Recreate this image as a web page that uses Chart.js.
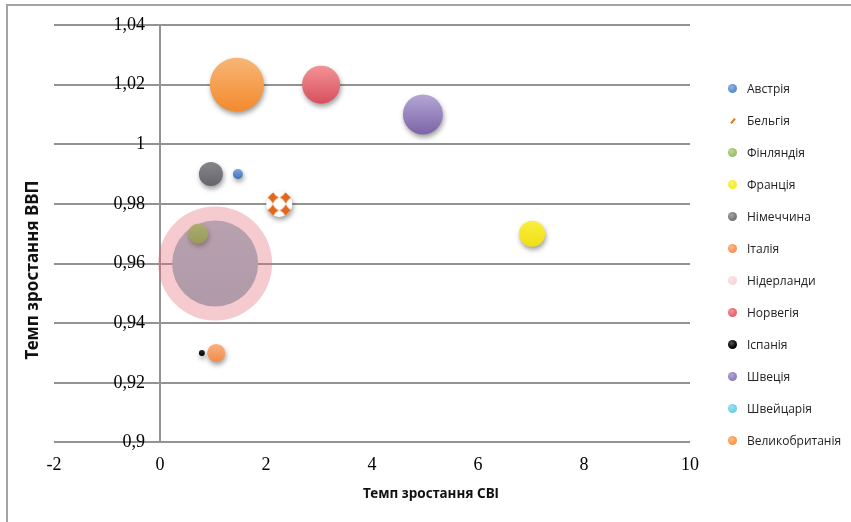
<!DOCTYPE html>
<html>
<head>
<meta charset="utf-8">
<script src="https://cdn.jsdelivr.net/npm/chart.js@4.4.1/dist/chart.umd.min.js"></script>
<style>
  html, body { margin: 0; padding: 0; background: #fff; }
  #wrap { position: relative; width: 851px; height: 522px; overflow: hidden; }
  #frame { position: absolute; left: 6px; top: 4px; width: 900px; height: 600px;
           border-top: 2px solid #a3a3a3; border-left: 2px solid #a3a3a3; }
  canvas { position: absolute; left: 0; top: 0; }
  #legend { position: absolute; left: 728px; top: 72px; font: 12px 'Open Sans', sans-serif; color: #222; }
  .item { height: 32px; display: flex; align-items: center; white-space: nowrap; }
  .mk { width: 9px; height: 9px; border-radius: 50%; margin-right: 10px; flex: none; }
  .slash { width: 9px; height: 9px; margin-right: 10px; flex: none; position: relative; }
  .slash::after { content: ''; position: absolute; left: 2px; top: 4px; width: 6px; height: 2px;
                  background: #e46c0a; transform: rotate(-50deg); }
</style>
</head>
<body>
<div id="wrap">
  <div id="frame"></div>
  <canvas id="c" width="851" height="522"></canvas>
  <div id="legend"></div>
</div>
<script>
// Countries and their values: x = growth of the FDI index, y = GDP growth rate, r = bubble size
const countries = ['Австрія', 'Бельгія', 'Фінляндія', 'Франція', 'Німеччина', 'Італія',
                   'Нідерланди', 'Норвегія', 'Іспанія', 'Швеція', 'Швейцарія', 'Великобританія'];
const fdiGrowth = [1.47, 2.25, 0.72, 7.02, 0.96, 1.06, 1.04, 3.04, 0.79, 4.96, 1.04, 1.45];
const gdpGrowth = [0.99, 0.98, 0.97, 0.97, 0.99, 0.93, 0.96, 1.02, 0.93, 1.01, 0.96, 1.02];
const bubbleSize = [5, 13, 10, 13, 12, 9, 57, 19, 3, 20, 43, 27];

const xTicks = [-2, 0, 2, 4, 6, 8, 10];
const xTickLabels = ['-2', '0', '2', '4', '6', '8', '10'];
const yTicks = [0.9, 0.92, 0.94, 0.96, 0.98, 1, 1.02, 1.04];
const yTickLabels = ['0,9', '0,92', '0,94', '0,96', '0,98', '1', '1,02', '1,04'];

const xTitle = 'Темп зростання СВІ';
const yTitle = 'Темп зростання ВВП';

// Fill styles: top and bottom colour of each bubble's vertical gradient
const topColors = ['#7ba7dd', null, '#8fd06a', '#fbef3e', '#85858a', '#f8b17f',
                   'rgba(225,105,118,0.35)', '#f29397', '#2a2a2a', '#b4a7d4', '#a3c0cd', '#f8b676'];
const bottomColors = ['#3e70b3', null, '#6fb648', '#f1de16', '#65656b', '#f28b4b',
                      'rgba(225,105,118,0.35)', '#d84f5d', '#000000', '#7c64a8', '#96b3c3', '#f38a2d'];
const legendColors = ['#5b8fd0', '#e46c0a', '#9dc06a', '#f6ec2a', '#77777b', '#f5955a',
                      '#f7d7db', '#e8646e', '#000000', '#8f7fbe', '#6fd0e6', '#f79a4a'];
const shadowed = [true, true, true, true, true, true, false, true, true, true, false, true];
// The translucent Нідерланди bubble sits on top of everything
const drawOrder = [0, 0, 0, 0, 0, 0, -1, 0, 0, 0, 0, 0];

// Diamond pattern used for Бельгія
function makeDiamondTile() {
  const s = 13;
  const t = document.createElement('canvas');
  t.width = s; t.height = s;
  const g = t.getContext('2d');
  g.fillStyle = '#ffffff';
  g.fillRect(0, 0, s, s);
  g.fillStyle = '#e4661a';
  const d = 6.2, k = 1.8;
  [[0, 0], [s, 0], [0, s], [s, s]].forEach(([cx, cy]) => {
    g.beginPath();
    g.moveTo(cx, cy - d);
    g.quadraticCurveTo(cx + k, cy - k, cx + d, cy);
    g.quadraticCurveTo(cx + k, cy + k, cx, cy + d);
    g.quadraticCurveTo(cx - k, cy + k, cx - d, cy);
    g.quadraticCurveTo(cx - k, cy - k, cx, cy - d);
    g.fill();
  });
  return t;
}
const diamondTile = makeDiamondTile();

function fillFor(i) {
  return (ctx) => {
    if (ctx.type !== 'data' || !ctx.raw) return legendColors[i];
    const chart = ctx.chart;
    const cx = chart.scales.x.getPixelForValue(ctx.raw.x);
    const cy = chart.scales.y.getPixelForValue(ctx.raw.y);
    const r = ctx.raw.r;
    if (!isFinite(cx) || !isFinite(cy)) return legendColors[i];
    if (topColors[i] === null) {
      const p = chart.ctx.createPattern(diamondTile, 'repeat');
      p.setTransform(new DOMMatrix().translate(cx - 6.5, cy - 6.5));
      return p;
    }
    const g = chart.ctx.createLinearGradient(0, cy - r, 0, cy + r);
    g.addColorStop(0, topColors[i]);
    g.addColorStop(1, bottomColors[i]);
    return g;
  };
}

const datasets = countries.map((name, i) => ({
  label: name,
  data: [{ x: fdiGrowth[i], y: gdpGrowth[i], r: bubbleSize[i] }],
  backgroundColor: fillFor(i),
  borderWidth: 0,
  hoverBorderWidth: 0,
  order: drawOrder[i]
}));

const decor = {
  id: 'decor',
  beforeDatasetDraw(chart, args) {
    const c = chart.ctx;
    c.save();
    if (shadowed[args.index]) {
      c.shadowColor = 'rgba(0,0,0,0.38)';
      c.shadowBlur = 5;
      c.shadowOffsetX = 1;
      c.shadowOffsetY = 3;
    }
  },
  afterDatasetDraw(chart) {
    chart.ctx.restore();
  },
  // value labels of the vertical axis, which crosses the horizontal one at x = 0
  afterDraw(chart) {
    const c = chart.ctx;
    const xs = chart.scales.x, ys = chart.scales.y;
    const axisX = xs.getPixelForValue(0);
    c.save();
    c.fillStyle = '#000';
    c.textAlign = 'right';
    c.textBaseline = 'middle';
    c.font = '18px "Liberation Serif"';
    yTicks.forEach((v, i) => c.fillText(yTickLabels[i], axisX - 15, ys.getPixelForValue(v)));

    c.fillStyle = '#111';
    c.textAlign = 'center';
    c.font = 'bold 13.5px "Noto Sans"';
    c.fillText(xTitle, 431, 494);
    c.translate(33, 270);
    c.rotate(-Math.PI / 2);
    c.font = 'bold 17px "Noto Sans"';
    c.fillText(yTitle, 0, 0);
    c.restore();
  }
};

new Chart(document.getElementById('c'), {
  type: 'bubble',
  data: { datasets },
  options: {
    responsive: false,
    animation: false,
    devicePixelRatio: 1,
    layout: { autoPadding: false, padding: { left: 54, right: 161, top: 25, bottom: 34 } },
    plugins: { legend: { display: false }, tooltip: { enabled: false } },
    scales: {
      x: {
        type: 'linear', min: -2, max: 10,
        afterBuildTicks: (s) => { s.ticks = xTicks.map(v => ({ value: v })); },
        ticks: {
          padding: 12, color: '#000',
          font: { family: 'Liberation Serif', size: 18 },
          callback: (v, i) => xTickLabels[i]
        },
        grid: { display: false, drawTicks: false },
        border: { display: false }
      },
      y: {
        type: 'linear', min: 0.9, max: 1.04,
        position: { x: 0 },
        afterBuildTicks: (s) => { s.ticks = yTicks.map(v => ({ value: v })); },
        ticks: { display: false },
        grid: { color: '#939393', lineWidth: 2, drawTicks: false },
        border: { display: true, color: '#939393', width: 2 }
      }
    }
  },
  plugins: [decor]
});

// Legend built from the same series list
const legend = document.getElementById('legend');
countries.forEach((name, i) => {
  const row = document.createElement('div');
  row.className = 'item';
  const mk = document.createElement('span');
  if (i === 1) {
    mk.className = 'slash';
  } else {
    mk.className = 'mk';
    mk.style.background = `radial-gradient(circle at 40% 35%, #ffffff55, ${legendColors[i]} 60%)`;
    mk.style.backgroundColor = legendColors[i];
  }
  const tx = document.createElement('span');
  tx.textContent = name;
  row.appendChild(mk);
  row.appendChild(tx);
  legend.appendChild(row);
});
</script>
</body>
</html>
